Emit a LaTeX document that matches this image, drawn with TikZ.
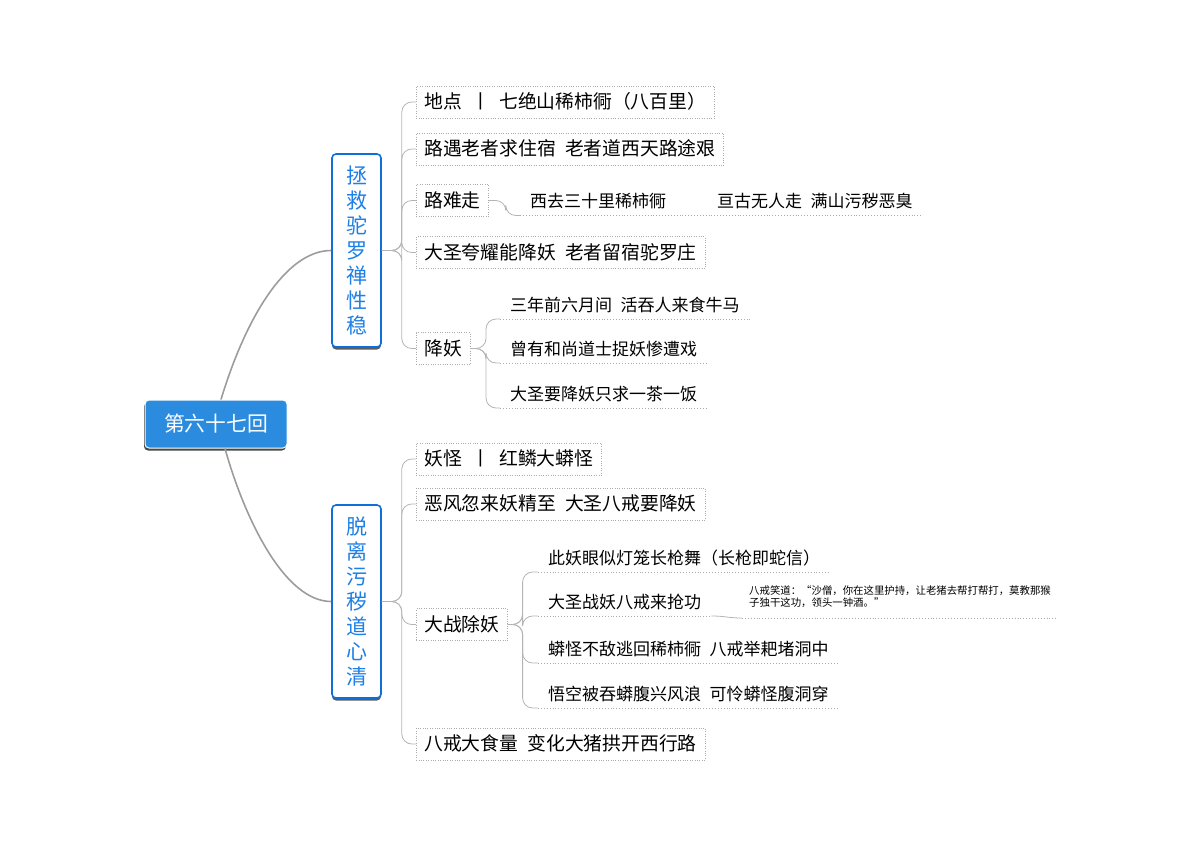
\documentclass[tikz,border=0pt]{standalone}
\usepackage{fontspec}
\setmainfont{Noto Sans CJK SC}
\usepackage{tikz}
\usetikzlibrary{shadows}
\definecolor{rootblue}{HTML}{2B8CDF}
\definecolor{branchblue}{HTML}{0F6FD8}
\definecolor{branchtext}{HTML}{1E7FE6}
\definecolor{boxgray}{HTML}{ABABAB}
\definecolor{twiggray}{HTML}{B4B4B4}
\definecolor{trunkgray}{HTML}{9C9C9C}
\newcommand{\jsp}{\hspace{.5em}}
\tikzstyle{roottopic}=[fill=rootblue, draw=white, line width=1pt, rounded corners=4pt, text=white, minimum width=142pt, minimum height=48pt, font=\fontsize{20.8}{24}\selectfont, drop shadow={shadow xshift=-1pt, shadow yshift=-2.5pt, fill=black!80, opacity=.9}]
\tikzstyle{mainbranch}=[draw=branchblue, fill=white, line width=1.6pt, rounded corners=4pt, text=branchtext, minimum width=49pt, minimum height=193pt, align=center, font=\fontsize{21}{25}\selectfont, drop shadow={shadow xshift=0pt, shadow yshift=-2.5pt, fill=black!75, opacity=.85}]
\tikzstyle{topic}=[draw=boxgray, dotted, fill=white, anchor=west, inner xsep=8pt, inner ysep=5.5pt, text height=17pt, text depth=4pt, font=\fontsize{18.8}{22}\selectfont]
\tikzstyle{leaftopic}=[anchor=south west, inner xsep=10pt, inner ysep=1pt, text height=15pt, text depth=6.5pt, font=\fontsize{17}{20}\selectfont]
\tikzstyle{notetopic}=[anchor=south west, inner xsep=7pt, inner ysep=0pt, minimum height=43pt, align=left, font=\fontsize{10.4}{12}\selectfont]
\tikzstyle{uline}=[draw=boxgray, dotted, line width=.9pt]
\tikzstyle{twig}=[draw=twiggray, line width=.8pt, rounded corners=10pt]
\tikzstyle{trunk}=[draw=trunkgray, line width=1.6pt]

\begin{document}
\begin{tikzpicture}[x=1pt, y=-1pt]
        \useasboundingbox (0,0) rectangle (1200,844);
        % centre and main branches
        \node[roottopic] (root) at (216,424) {第六十七回};
        \node[mainbranch] (zheng) at (356.5,250.5) {拯\\救\\驼\\罗\\禅\\性\\稳};
        \node[mainbranch] (tuo) at (356.5,601.5) {脱\\离\\污\\秽\\道\\心\\清};
        \draw[trunk] ([xshift=5pt]root.north) .. controls (245,320) and (285,250.5) .. (zheng.west);
        \draw[trunk] ([xshift=9pt]root.south) .. controls (245,520) and (285,601.5) .. (tuo.west);
        % first branch
        \node[topic] (didian) at (416,102) {地点\jsp 丨\jsp 七绝山稀柿衕（八百里）};
        \node[topic] (luyu) at (416,149) {路遇老者求住宿\jsp 老者道西天路途艰};
        \node[topic] (nanzou) at (416,200.5) {路难走};
        \node[topic] (kuayao) at (416,252.5) {大圣夸耀能降妖\jsp 老者留宿驼罗庄};
        \node[topic] (xiangyao) at (416,348.5) {降妖};
        \foreach \t in {didian,luyu,nanzou,kuayao,xiangyao}
            \draw[twig] (zheng.east) -- ++(20,0) |- (\t.west);
        \node[leaftopic] (xiqu) at (520,215.5) {西去三十里稀柿衕\hspace{51pt}亘古无人走\jsp 满山污秽恶臭};
        \draw[uline] (xiqu.south west) -- (xiqu.south east);
        \draw[twig] (nanzou.east) -- ++(17,0) |- (xiqu.south west);
        \node[leaftopic] (sannian) at (500,319) {三年前六月间\jsp 活吞人来食牛马};
        \node[leaftopic] (cengyou) at (500,363) {曾有和尚道士捉妖惨遭戏};
        \node[leaftopic] (chafan) at (500,408) {大圣要降妖只求一茶一饭};
        \foreach \t in {sannian,cengyou,chafan} {
            \draw[uline] (\t.south west) -- (\t.south east);
            \draw[twig] (xiangyao.east) -- ++(16,0) |- (\t.south west);
        }
        % second branch
        \node[topic] (yaoguai) at (416,459) {妖怪\jsp 丨\jsp 红鳞大蟒怪};
        \node[topic] (efeng) at (416,504) {恶风忽来妖精至\jsp 大圣八戒要降妖};
        \node[topic] (dazhan) at (416,624.5) {大战除妖};
        \node[topic] (shiliang) at (416,744) {八戒大食量\jsp 变化大猪拱开西行路};
        \foreach \t in {yaoguai,efeng,dazhan,shiliang}
            \draw[twig] (tuo.east) -- ++(20,0) |- (\t.west);
        \node[leaftopic] (yanjing) at (538,572) {此妖眼似灯笼长枪舞（长枪即蛇信）};
        \node[leaftopic] (qianggong) at (538,616) {大圣战妖八戒来抢功};
        \node[leaftopic] (taohui) at (538,663) {蟒怪不敌逃回稀柿衕\jsp 八戒举耙堵洞中};
        \node[leaftopic] (futong) at (538,708) {悟空被吞蟒腹兴风浪\jsp 可怜蟒怪腹洞穿};
        \foreach \t in {yanjing,qianggong,taohui,futong} {
            \draw[uline] (\t.south west) -- (\t.south east);
            \draw[twig] (dazhan.east) -- ++(15,0) |- (\t.south west);
        }
        \node[notetopic] (xiaodao) at (742,618) {八戒笑道：“沙僧，你在这里护持，让老猪去帮打帮打，莫教那猴\\子独干这功，领头一钟酒。”};
        \draw[uline] (xiaodao.south west) -- (xiaodao.south east);
        \draw[twig] (qianggong.south east) .. controls +(14,0) and +(-14,0) .. (xiaodao.south west);
    \end{tikzpicture}
\end{document}
